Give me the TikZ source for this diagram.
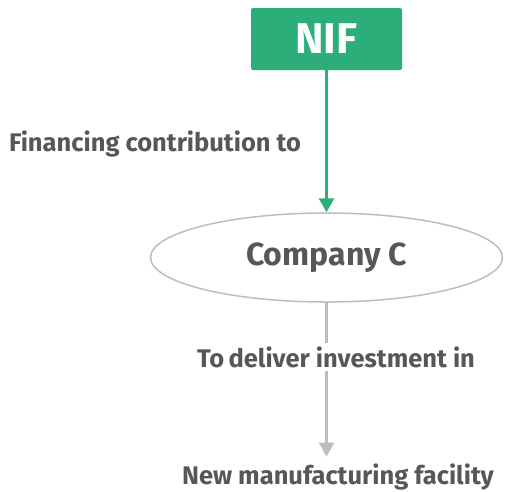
\documentclass[tikz,border=0pt]{standalone}
\usepackage{fontspec}
\setmainfont{Fira Sans}
\usetikzlibrary{positioning}
\usetikzlibrary{arrows.meta}
\usetikzlibrary{shapes.geometric}
\definecolor{nifgreen}{HTML}{2BAE7A}
\definecolor{labelgray}{HTML}{575757}
\definecolor{linegray}{HTML}{BDBDBD}
\tikzstyle{fundnode} = [fill=nifgreen, rounded corners=2pt, minimum width=151pt, minimum height=62pt, text=white, font=\fontsize{43}{47}\selectfont\bfseries]
\tikzstyle{compnode} = [draw=linegray, line width=1.5pt, ellipse, minimum width=352pt, minimum height=89pt, text=labelgray, font=\fontsize{32}{36}\selectfont\bfseries]
\tikzstyle{textnode} = [text=labelgray, inner sep=3pt, font=\fontsize{25.5}{30}\selectfont\bfseries]
\tikzstyle{greenarrow} = [nifgreen, line width=2.5pt, -{Triangle[length=14pt,width=15pt]}]
\tikzstyle{grayarrow} = [linegray, line width=2.5pt, -{Triangle[length=14pt,width=15pt]}]

\begin{document}
\begin{tikzpicture}[x=1pt, y=-1pt]
  \useasboundingbox (0,0) rectangle (505,491);
  \node[fundnode] (nif) at (326.5,39) {NIF};
  \node[compnode] (comp) at (326.5,257.5) {Company C};
  \node[textnode] (fin) at (155,144) {Financing contribution to};
  \node[textnode] (deliver) at (336,357) {To\,deliver investment in};
  \node[textnode] (facility) at (338,477) {New manufacturing facility};

  \draw[greenarrow] (nif) -- (comp);
  \draw[linegray, line width=2.5pt] (comp.south) -- (deliver.north -| comp.south);
  \draw[grayarrow] (deliver.south -| comp.south) -- ([yshift=4pt]facility.north -| comp.south);
\end{tikzpicture}
\end{document}
